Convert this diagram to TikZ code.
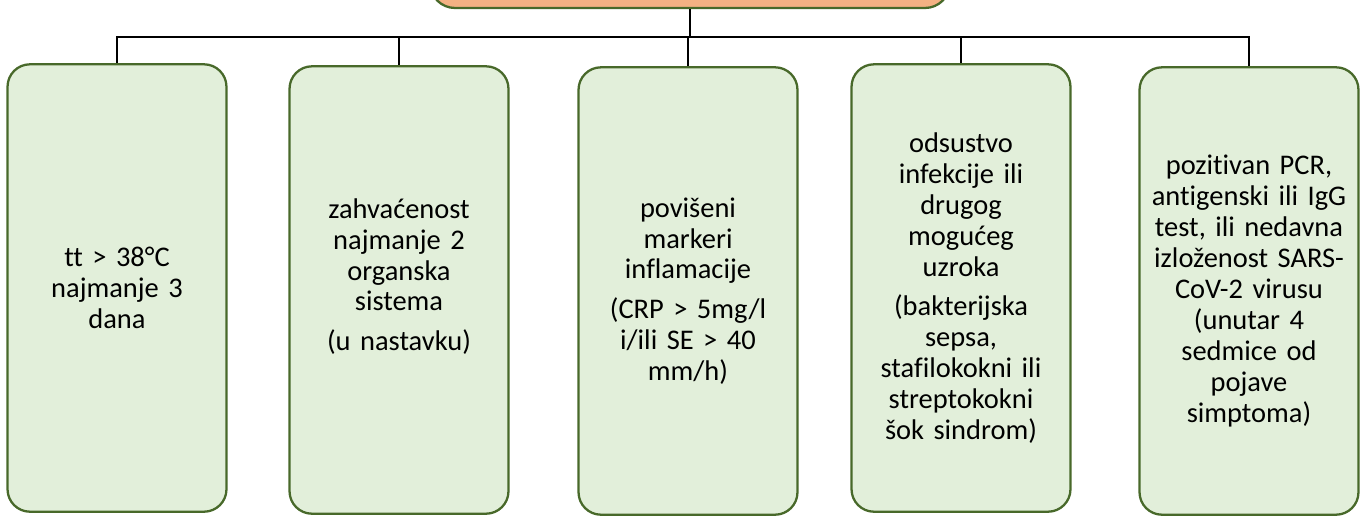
\documentclass[tikz,border=0pt]{standalone}
\usepackage{fontspec}
\setmainfont{Carlito}[Ligatures=NoCommon]
\usepackage{tikz}
\usetikzlibrary{positioning}
\definecolor{critfill}{HTML}{E2EFDA}
\definecolor{critline}{HTML}{48692A}
\definecolor{headfill}{HTML}{F4B183}
\tikzset{
  font={\fontsize{16.2pt}{17.6pt}\selectfont},
  crit/.style={draw=critline, fill=critfill, line width=1.3pt, shape=rectangle,
    rounded corners=0.45cm, text width=4.2cm, align=center,
    minimum width=4.38cm, minimum height=8.95cm, inner sep=1pt},
  head/.style={draw=critline, fill=headfill, line width=1.3pt, shape=rectangle,
    rounded corners=0.5cm, minimum width=10.4cm, minimum height=1.6cm},
  bus/.style={draw=black, line width=1.2pt}}
\begin{document}
\begin{tikzpicture}[x=0.02cm, y=-0.02cm]
  \clip (0,0) rectangle (1368,518);
  \node (top) [head] at (690,-32) {};
  \coordinate (fork) at (690,37);
  \node (c1) [crit] at (117,288) {tt > 38°C\\ najmanje 3\\ dana};
  \node (c2) [crit] at (399,290) {zahvaćenost\\ najmanje 2\\ organska\\ sistema\\[5pt] (u nastavku)\\ ~};
  \node (c3) [crit] at (688,291) {povišeni\\ markeri\\ inflamacije\\[5pt] (CRP > 5mg/l\\ i/ili SE > 40\\ mm/h)};
  \node (c4) [crit] at (961,288) {odsustvo\\ infekcije ili\\ drugog\\ mogućeg\\ uzroka\\[5pt] (bakterijska\\ sepsa,\\ stafilokokni ili\\ streptokokni\\ šok sindrom)};
  \node (c5) [crit] at (1249,291) {pozitivan PCR,\\ antigenski ili IgG\\ test, ili nedavna\\ izloženost SARS-\\ CoV-2 virusu\\ (unutar 4\\ sedmice od\\ pojave\\ simptoma)};
  \draw[bus] (top) -- (fork);
  \draw[bus] (fork) -| (c1);
  \draw[bus] (fork) -| (c2);
  \draw[bus] (fork) -| (c3);
  \draw[bus] (fork) -| (c4);
  \draw[bus] (fork) -| (c5);
\end{tikzpicture}
\end{document}
